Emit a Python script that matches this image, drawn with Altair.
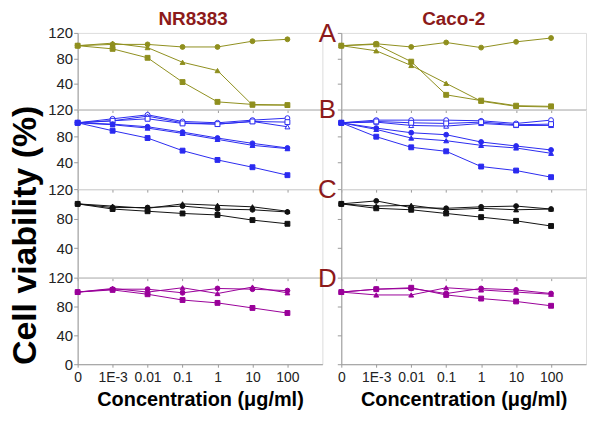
import altair as alt
import pandas as pd

# ---------------- data ----------------
x_labels = ["0", "1E-3", "0.01", "0.1", "1", "10", "100"]
column_titles = ["NR8383", "Caco-2"]
panel_letters = ["A", "B", "C", "D"]

# NR8383
nr_A_circle = [100, 102, 102, 98, 98, 107, 110]
nr_A_triangle = [100, 104, 97, 74, 61, 7, 7]
nr_A_square = [100, 95, 81, 43, 12, 8, 7]

nr_B_open_circle = [100, 106, 112, 102, 100, 104, 107]
nr_B_open_triangle = [100, 103, 110, 100, 98, 102, 94]
nr_B_open_square = [100, 103, 106, 99, 98, 102, 101]
nr_B_circle = [100, 98, 94, 86, 77, 69, 62]
nr_B_triangle = [100, 97, 92, 84, 75, 66, 61]
nr_B_square = [100, 88, 77, 58, 44, 33, 21]

nr_C_circle = [100, 95, 95, 97, 93, 92, 89]
nr_C_triangle = [100, 97, 94, 100, 98, 96, 90]
nr_C_square = [100, 93, 90, 87, 85, 78, 73]

nr_D_circle = [100, 104, 104, 99, 105, 104, 102]
nr_D_triangle = [100, 105, 100, 106, 98, 107, 99]
nr_D_square = [100, 103, 97, 89, 85, 78, 71]

# Caco-2
ca_A_circle = [100, 103, 98, 105, 97, 106, 112]
ca_A_square = [100, 102, 75, 23, 14, 6, 5]
ca_A_triangle = [100, 92, 69, 41, 13, 5, 4]

ca_B_open_circle = [100, 104, 104, 104, 103, 99, 104]
ca_B_open_triangle = [100, 101, 96, 95, 99, 96, 96]
ca_B_open_square = [100, 102, 100, 99, 101, 97, 98]
ca_B_circle = [100, 92, 85, 82, 71, 65, 59]
ca_B_triangle = [100, 90, 77, 73, 66, 62, 54]
ca_B_square = [100, 79, 63, 57, 34, 28, 18]

ca_C_circle = [100, 104, 95, 94, 96, 97, 93]
ca_C_triangle = [100, 97, 98, 92, 94, 92, 93]
ca_C_square = [100, 94, 92, 87, 82, 77, 70]

ca_D_circle = [100, 104, 105, 98, 105, 103, 98]
ca_D_triangle = [100, 96, 96, 106, 103, 100, 97]
ca_D_square = [100, 104, 106, 96, 91, 87, 81]

panel_colors = ["#8f8f1e", "#2a2af0", "#111111", "#990099"]
panel_heights = [77, 80, 89, 87]

nr_panels = [
    [("circle", True, nr_A_circle), ("triangle-up", True, nr_A_triangle), ("square", True, nr_A_square)],
    [("circle", False, nr_B_open_circle), ("triangle-up", False, nr_B_open_triangle),
     ("square", False, nr_B_open_square), ("circle", True, nr_B_circle),
     ("triangle-up", True, nr_B_triangle), ("square", True, nr_B_square)],
    [("circle", True, nr_C_circle), ("triangle-up", True, nr_C_triangle), ("square", True, nr_C_square)],
    [("circle", True, nr_D_circle), ("triangle-up", True, nr_D_triangle), ("square", True, nr_D_square)],
]
ca_panels = [
    [("circle", True, ca_A_circle), ("square", True, ca_A_square), ("triangle-up", True, ca_A_triangle)],
    [("circle", False, ca_B_open_circle), ("triangle-up", False, ca_B_open_triangle),
     ("square", False, ca_B_open_square), ("circle", True, ca_B_circle),
     ("triangle-up", True, ca_B_triangle), ("square", True, ca_B_square)],
    [("circle", True, ca_C_circle), ("triangle-up", True, ca_C_triangle), ("square", True, ca_C_square)],
    [("circle", True, ca_D_circle), ("triangle-up", True, ca_D_triangle), ("square", True, ca_D_square)],
]

FONT = "Liberation Sans"
DARKRED = "#8c1a1a"
AXIS_GRAY = "#9a9a9a"
label_expr = "[" + ",".join("'%s'" % l for l in x_labels) + "][datum.value]"


def make_df(series_list, color):
    rows = []
    for si, (shape, filled, vals) in enumerate(series_list):
        for xi, v in enumerate(vals):
            rows.append({"series": si, "x": xi, "y": v, "shape": shape,
                         "fillc": color if filled else "white"})
    return pd.DataFrame(rows)


def make_panel(series_list, idx, is_left):
    color = panel_colors[idx]
    height = panel_heights[idx]
    bottom = idx == 3
    df = make_df(series_list, color)

    x_axis = alt.Axis(
        values=list(range(7)), labelExpr=label_expr, labels=bottom,
        title="Concentration (\u03bcg/ml)" if bottom else None,
        titleFontSize=20, titleFontWeight="bold", titleColor="#000000", titleFont=FONT,
        titlePadding=6, labelFontSize=14, labelColor="#222222", labelFont=FONT,
        labelPadding=3, tickSize=3, tickColor=AXIS_GRAY, domainColor=AXIS_GRAY,
        grid=False, labelFlush=False, labelOverlap=False,
    )
    y_axis_kwargs = dict(
        values=[0, 40, 80, 120] if bottom else [40, 80, 120],
        labels=is_left, labelFontSize=15, labelColor="#222222", labelFont=FONT,
        tickSize=4, tickColor=AXIS_GRAY, domainColor=AXIS_GRAY, grid=False,
        labelPadding=1, title=None,
    )
    if is_left and idx == 2:
        y_axis_kwargs.update(title="Cell viability (%)", titleFontSize=34,
                             titleFontWeight="bold", titleColor="#000000",
                             titleFont=FONT, titlePadding=5, titleY=46)
    y_axis = alt.Axis(**y_axis_kwargs)

    base = alt.Chart(df).encode(
        x=alt.X("x:Q", scale=alt.Scale(domain=[0, 7], nice=False), axis=x_axis),
        y=alt.Y("y:Q", scale=alt.Scale(domain=[0, 120], nice=False), axis=y_axis),
    )
    lines = base.mark_line(color=color, strokeWidth=1).encode(
        detail="series:N", order="x:Q")
    points = base.mark_point(filled=True, size=24, strokeWidth=1, opacity=1).encode(
        shape=alt.Shape("shape:N", scale=None),
        fill=alt.Fill("fillc:N", scale=None),
        stroke=alt.value(color),
    )
    layers = [lines, points]
    if not is_left:
        letter = alt.Chart(pd.DataFrame({"t": [panel_letters[idx]]})).mark_text(
            font=FONT, fontSize=26, color=DARKRED, align="center", baseline="middle"
        ).encode(text="t:N", x=alt.value(-14), y=alt.value(1))
        layers.append(letter)
    if idx == 0:
        ttl = alt.Chart(pd.DataFrame({"t": [column_titles[0 if is_left else 1]]})).mark_text(
            font=FONT, fontSize=19, fontWeight="bold", color=DARKRED,
            align="center", baseline="middle"
        ).encode(text="t:N", x=alt.value(116 if is_left else 113), y=alt.value(-14))
        layers.append(ttl)
    return alt.layer(*layers).properties(width=246, height=height)


cells = []
for i in range(4):
    cells.append(make_panel(nr_panels[i], i, True))
    cells.append(make_panel(ca_panels[i], i, False))

chart = alt.concat(
    *cells, columns=2, spacing={"row": 0, "column": 19}, bounds="flush"
).properties(
    padding={"left": 0, "top": 0, "right": 5, "bottom": 2}
).configure_view(stroke=None).configure(font=FONT)

chart.save("out.html", embed_options={"renderer": "svg", "actions": False})
